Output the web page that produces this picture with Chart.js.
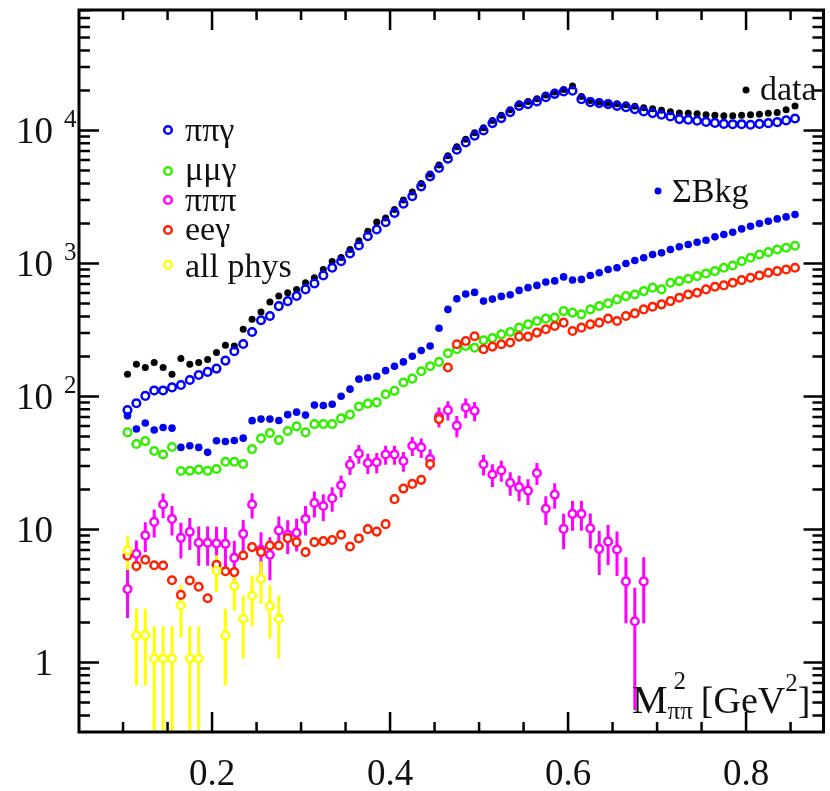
<!DOCTYPE html>
<html>
<head>
<meta charset="utf-8">
<script src="https://cdn.jsdelivr.net/npm/chart.js@4.4.1/dist/chart.umd.min.js"></script>
<style>
  html, body { margin: 0; padding: 0; background: #fff; }
  #wrap { width: 830px; height: 791px; position: relative; }
</style>
</head>
<body>
<div id="wrap"><canvas id="chart"></canvas></div>
<script>
// bin centres, M^2 (GeV^2)
const mass = [
  0.105, 0.115, 0.125, 0.135, 0.145, 0.155, 0.165, 0.175, 0.185, 0.195,
  0.205, 0.215, 0.225, 0.235, 0.245, 0.255, 0.265, 0.275, 0.285, 0.295,
  0.305, 0.315, 0.325, 0.335, 0.345, 0.355, 0.365, 0.375, 0.385, 0.395,
  0.405, 0.415, 0.425, 0.435, 0.445, 0.455, 0.465, 0.475, 0.485, 0.495,
  0.505, 0.515, 0.525, 0.535, 0.545, 0.555, 0.565, 0.575, 0.585, 0.595,
  0.605, 0.615, 0.625, 0.635, 0.645, 0.655, 0.665, 0.675, 0.685, 0.695,
  0.705, 0.715, 0.725, 0.735, 0.745, 0.755, 0.765, 0.775, 0.785, 0.795,
  0.805, 0.815, 0.825, 0.835, 0.845, 0.855
];

const dataCounts = [
  147, 175, 165, 180, 165, 147, 193, 175, 180, 190,
  214, 243, 240, 320, 380, 431, 514, 569, 603, 638,
  716, 781, 902, 1035, 1109, 1274, 1480, 1750, 2050, 2200,
  2550, 3000, 3450, 4000, 4700, 5500, 6450, 7550, 8600, 9600,
  10500, 11900, 13000, 14300, 15900, 16500, 17300, 18500, 19500, 20300,
  21600, 18000, 16800, 16400, 16100, 15850, 15600, 15200, 14800, 14550,
  14200, 13800, 13560, 13500, 13340, 13120, 13000, 12890, 12890, 13000,
  13120, 13270, 13450, 13650, 14300, 15300
];

const pipig = [
  79, 89, 101, 111, 111, 117, 122, 133, 145, 153,
  162, 186, 219, 248, 305, 374, 403, 478, 521, 569,
  638, 708, 813, 929, 1040, 1189, 1365, 1603, 1799, 2042,
  2400, 2818, 3199, 3800, 4519, 5224, 6134, 7164, 8128, 9120,
  10000, 11360, 12390, 13740, 15320, 15780, 16510, 17810, 18850, 19620,
  19900, 17200, 16330, 16060, 15780, 15320, 14980, 14470, 13880, 13510,
  13120, 12740, 12180, 12030, 11830, 11600, 11400, 11200, 11150, 11150,
  11050, 11200, 11350, 11550, 11900, 12300
];

const sumBkg = [
  71.5, 56.9, 63.1, 55.9, 58.5, 57.8, 41.4, 42.6, 41.4, 38.0,
  46.5, 45.9, 46.7, 48.6, 65.8, 67.6, 67.6, 66, 73, 76.2,
  72.4, 86.1, 85.6, 87.5, 100.5, 113.5, 134.9, 138.4, 141.9, 156.3,
  168.7, 181.9, 200.6, 221.4, 239.7, 325.4, 451.6, 543.3, 588.2, 605.8,
  521.3, 539.7, 565.3, 582.1, 627.3, 657.7, 684, 724.4, 739.6, 792.5,
  751.6, 758.6, 812.8, 851.4, 901.6, 928.8, 1000, 1053, 1104, 1168,
  1202, 1274, 1335, 1388, 1445, 1496, 1585, 1650, 1718, 1820,
  1905, 1995, 2077, 2164, 2240, 2333
];

const mumug = [
  53.7, 43.9, 46.2, 38.9, 36.6, 41.7, 27.5, 27.6, 28.2, 27.6,
  28.5, 32.3, 32.3, 31.1, 40.2, 48.4, 53.1, 47.0, 55.0, 59.6,
  53.7, 62.0, 62.0, 62.0, 68.4, 73.0, 84.1, 88.3, 90.2, 104,
  110.2, 127.4, 136.1, 154.8, 168.8, 181.9, 211.3, 226.5, 239.9, 232.3,
  264.4, 274.8, 293.3, 305.4, 329.3, 348.5, 369, 384.6, 391.6, 438.5,
  426.6, 414.4, 451.6, 478.3, 501, 537, 568.6, 585, 619.6, 657.7,
  638, 716, 736.6, 767.4, 803.4, 841.4, 875.6, 928.8, 966, 1040,
  1104, 1168, 1216, 1274, 1312, 1358
];

const eeg = [
  6.34, 5.31, 5.92, 5.38, 5.36, 4.15, 3.22, 4.13, 3.71, 3.04,
  5.43, 4.85, 4.78, 6.37, 7.37, 6.76, 7.57, 7.57, 8.6, 8.03,
  6.76, 8.03, 8.17, 8.33, 9.12, 7.44, 8.56, 10.05, 9.64, 10.96,
  16.9, 20.3, 22.0, 23.6, 31.05, 67.6, 165, 246.8, 261.4, 283.4,
  226.5, 237.1, 246.8, 254.3, 281.8, 281.8, 302, 320, 338.8, 359,
  310.7, 329.3, 348.5, 359, 384.6, 369, 402.7, 421.7, 451.6, 473.2,
  492.6, 521.3, 553, 585, 602.6, 638, 668.7, 684, 716, 749.6,
  781, 812.8, 851.4, 875.6, 901.6, 928.8
];

const pipipi = [
  3.56, 6.56, 9.03, 11.4, 15.4, 12.0, 8.65, 9.6, 7.94, 7.94,
  7.86, 7.80, 6.12, 9.27, 15.4, 7.03, 6.45, 9.84, 9.12, 9.43,
  12.0, 15.8, 15.0, 17.2, 21.5, 30.7, 37.2, 31.6, 32.0, 36.6,
  36.6, 32.7, 42.6, 41.4, 33.9, 70.5, 78.9, 60.4, 82.7, 78.0,
  30.9, 25.9, 27.8, 22.4, 20.8, 19.6, 26.6, 14.3, 18.3, 10.1,
  13.1, 13.1, 10.2, 7.15, 8.11, 7.07, 4.07, 2.04, 4.07
];
const pipipiErr = [
  1.4, 1.7, 2.3, 2.7, 3.2, 3.0, 2.6, 2.6, 2.6, 2.6,
  2.6, 2.6, 2.1, 2.5, 3.3, 2.5, 2.3, 2.7, 2.6, 2.6,
  3.0, 3.5, 3.4, 3.6, 4.0, 5.0, 6.0, 5.5, 5.5, 6.0,
  6.0, 5.5, 7.0, 7.0, 6.0, 12, 13, 11, 14, 13,
  5.5, 5.0, 5.0, 4.5, 4.5, 4.3, 5.0, 3.5, 4.0, 3.0,
  3.3, 3.3, 3.0, 2.6, 2.7, 2.6, 2.1, 1.6, 2.1
];

const allPhys = [
  6.95, 1.6, 1.6, 1.07, 1.07, 1.07, 2.69, 1.07, 1.07, null,
  4.89, 1.6, 3.74, 2.13, 3.19, 4.26, 2.66, 2.13
];
const allPhysErr = [
  2.0, 0.93, 0.93, 0.8, 0.8, 0.8, 1.15, 0.8, 0.8, null,
  1.5, 0.93, 1.3, 1.06, 1.3, 1.5, 1.15, 1.06
];

const xMajorTicks = [0.2, 0.4, 0.6, 0.8];
const xTickLabels = ["0.2", "0.4", "0.6", "0.8"];
const xMinorTicks = [0.1, 0.15, 0.25, 0.3, 0.35, 0.45, 0.5, 0.55, 0.65, 0.7, 0.75, 0.85];
const yMajorTicks = [1, 10, 100, 1000, 10000];
const yTickBase = ["1", "10", "10", "10", "10"];
const yTickExp = ["", "", "2", "3", "4"];
const yMinorTicks = [
  0.4, 0.5, 0.6, 0.7, 0.8, 0.9,
  2, 3, 4, 5, 6, 7, 8, 9,
  20, 30, 40, 50, 60, 70, 80, 90,
  200, 300, 400, 500, 600, 700, 800, 900,
  2000, 3000, 4000, 5000, 6000, 7000, 8000, 9000,
  20000, 30000, 40000, 50000, 60000, 70000, 80000
];

function points(vals, errs) {
  const out = [];
  vals.forEach((v, i) => {
    if (v == null) return;
    out.push({ x: mass[i], y: v, e: errs ? errs[i] : 0 });
  });
  return out;
}

const SERIF = "'Liberation Serif', 'DejaVu Serif', serif";

function openSeries(label, vals, color, order, errs, fill) {
  return {
    label: label,
    data: points(vals, errs),
    pointStyle: "circle",
    pointRadius: 3.8,
    borderWidth: 2.5,
    borderColor: color,
    backgroundColor: fill,
    errorWidth: errs ? 3 : 0,
    order: order,
  };
}

const datasets = [
  {
    label: "data",
    data: points(dataCounts),
    pointRadius: 3.5,
    borderWidth: 0,
    backgroundColor: "#000",
    borderColor: "#000",
    order: 7,
  },
  {
    label: "ΣBkg",
    data: points(sumBkg),
    pointRadius: 3.8,
    borderWidth: 0,
    backgroundColor: "#0000f0",
    borderColor: "#0000f0",
    order: 6,
  },
  openSeries("ππγ", pipig, "#0000ff", 5, null, "rgba(255,255,255,0)"),
  openSeries("μμγ", mumug, "#33ee00", 4, null, "#fff"),
  openSeries("πππ", pipipi, "#ff00ff", 3, pipipiErr, "#fff"),
  openSeries("eeγ", eeg, "#ff2200", 2, null, "#fff"),
  openSeries("all phys", allPhys, "#ffff00", 1, allPhysErr, "#fff"),
];

// vertical error bars, under the markers
const errorBars = {
  id: "errorBars",
  beforeDatasetsDraw(chart) {
    const { ctx, chartArea: a, scales: { x, y } } = chart;
    ctx.save();
    ctx.beginPath();
    ctx.rect(a.left, a.top, a.right - a.left, a.bottom - a.top);
    ctx.clip();
    chart.data.datasets.forEach((ds) => {
      if (!ds.errorWidth) return;
      ctx.strokeStyle = ds.borderColor;
      ctx.lineWidth = ds.errorWidth;
      ds.data.forEach((p) => {
        if (!p.e) return;
        const px = x.getPixelForValue(p.x);
        const top = y.getPixelForValue(p.y + p.e);
        const lo = p.y - p.e;
        const bot = lo > 0 ? y.getPixelForValue(lo) : a.bottom + 10;
        ctx.beginPath();
        ctx.moveTo(px, top);
        ctx.lineTo(px, bot);
        ctx.stroke();
      });
    });
    ctx.restore();
  },
};

// frame, inward ticks, tick labels, legend and axis title
const frame = {
  id: "frame",
  afterDraw(chart) {
    const { ctx, chartArea: a, scales: { x, y } } = chart;
    ctx.save();
    ctx.strokeStyle = "#000";
    ctx.lineCap = "butt";

    ctx.lineWidth = 2.5;
    ctx.beginPath();
    xMajorTicks.forEach((v) => {
      const px = x.getPixelForValue(v);
      ctx.moveTo(px, a.bottom); ctx.lineTo(px, a.bottom - 20);
      ctx.moveTo(px, a.top); ctx.lineTo(px, a.top + 20);
    });
    xMinorTicks.forEach((v) => {
      const px = x.getPixelForValue(v);
      ctx.moveTo(px, a.bottom); ctx.lineTo(px, a.bottom - 10);
      ctx.moveTo(px, a.top); ctx.lineTo(px, a.top + 10);
    });
    yMajorTicks.forEach((v) => {
      const py = y.getPixelForValue(v);
      ctx.moveTo(a.left, py); ctx.lineTo(a.left + 20, py);
      ctx.moveTo(a.right, py); ctx.lineTo(a.right - 20, py);
    });
    yMinorTicks.forEach((v) => {
      const py = y.getPixelForValue(v);
      ctx.moveTo(a.left, py); ctx.lineTo(a.left + 11, py);
      ctx.moveTo(a.right, py); ctx.lineTo(a.right - 11, py);
    });
    ctx.stroke();

    ctx.lineWidth = 3;
    ctx.strokeRect(a.left, a.top, a.right - a.left, a.bottom - a.top);

    ctx.fillStyle = "#111";
    ctx.textBaseline = "alphabetic";

    // x tick labels
    ctx.font = "37px " + SERIF;
    ctx.textAlign = "center";
    xMajorTicks.forEach((v, i) => {
      ctx.fillText(xTickLabels[i], x.getPixelForValue(v), 785);
    });

    // y tick labels
    yMajorTicks.forEach((v, i) => {
      const py = y.getPixelForValue(v);
      ctx.font = "37px " + SERIF;
      ctx.textAlign = "right";
      ctx.fillText(yTickBase[i], 53, py + 12.5);
      if (yTickExp[i]) {
        ctx.font = "25px " + SERIF;
        ctx.textAlign = "left";
        ctx.fillText(yTickExp[i], 64, py - 3);
      }
    });

    // legend
    const rows = {
      "ππγ": [168, 130, 141],
      "μμγ": [168, 171, 180],
      "πππ": [168, 200, 211],
      "eeγ": [168, 230, 240],
      "all phys": [168, 265, 277],
      "data": [746, 90, 100],
      "ΣBkg": [658, 191, 202],
    };
    ctx.font = "34px " + SERIF;
    ctx.textAlign = "left";
    chart.data.datasets.forEach((ds) => {
      const r = rows[ds.label];
      if (!r) return;
      ctx.beginPath();
      ctx.arc(r[0], r[1], ds.borderWidth ? 3.8 : 3.5, 0, Math.PI * 2);
      if (ds.borderWidth) {
        ctx.lineWidth = 2.5;
        ctx.strokeStyle = ds.borderColor;
        ctx.stroke();
      } else {
        ctx.fillStyle = ds.backgroundColor;
        ctx.fill();
      }
      ctx.fillStyle = "#111";
      ctx.fillText(ds.label, r[0] + (ds.borderWidth ? 17 : 14), r[2]);
    });

    // axis title  M^2_ππ [GeV^2]
    let tx = 632;
    const base = 713;
    ctx.font = "40px " + SERIF;
    ctx.fillText("M", tx, base);
    tx += ctx.measureText("M").width;
    ctx.font = "25px " + SERIF;
    ctx.fillText("2", tx + 6, base - 24);
    ctx.fillText("ππ", tx, base + 6);
    tx += ctx.measureText("ππ").width + 8;
    ctx.font = "38px " + SERIF;
    ctx.fillText("[GeV", tx, base);
    tx += ctx.measureText("[GeV").width;
    ctx.font = "25px " + SERIF;
    ctx.fillText("2", tx, base - 22);
    tx += ctx.measureText("2").width;
    ctx.font = "38px " + SERIF;
    ctx.fillText("]", tx, base);

    ctx.restore();
  },
};

new Chart(document.getElementById("chart"), {
  type: "scatter",
  data: { datasets: datasets },
  options: {
    responsive: true,
    maintainAspectRatio: false,
    animation: false,
    events: [],
    layout: { padding: { left: 79, right: 5, top: 10, bottom: 59 } },
    plugins: { legend: { display: false }, tooltip: { enabled: false } },
    scales: {
      x: { type: "linear", min: 0.0505, max: 0.887, display: false },
      y: { type: "logarithmic", min: 0.305, max: 80500, display: false },
    },
  },
  plugins: [errorBars, frame],
});
</script>
</body>
</html>
